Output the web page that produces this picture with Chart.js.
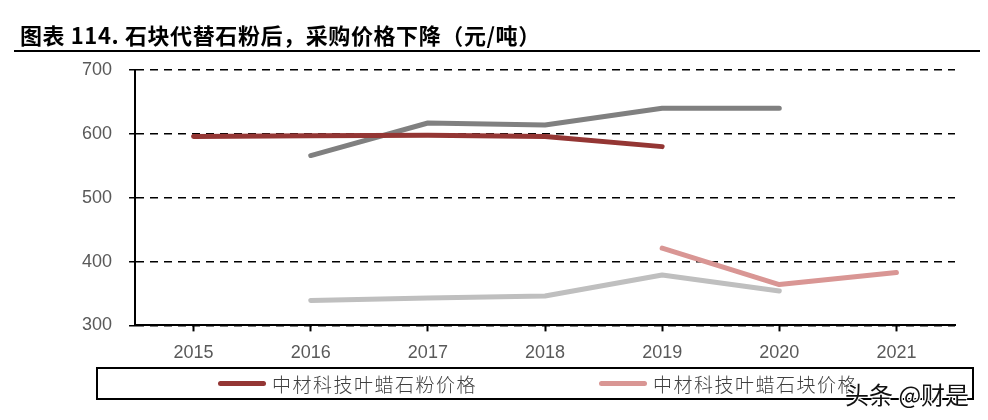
<!DOCTYPE html>
<html>
<head>
<meta charset="utf-8">
<script src="https://cdn.jsdelivr.net/npm/chart.js@4/dist/chart.umd.min.js"></script>
<style>
  html, body { margin: 0; padding: 0; background: #fff; }
  #wrap { position: relative; width: 988px; height: 420px; overflow: hidden; }
  #chart { position: absolute; left: 0; top: 0; }
  #title {
    position: absolute; left: 20px; top: 19px;
    font-family: "Noto Sans CJK SC", sans-serif; font-weight: bold;
    font-size: 22px; color: #000; white-space: nowrap; line-height: 30px;
    letter-spacing: 0.6px;
  }
  #rule { position: absolute; left: 14px; top: 50px; width: 966px; height: 2px; background: #000; }
  #legend {
    position: absolute; left: 96px; top: 367px; width: 874px; height: 29px;
    border: 2px solid #000; box-sizing: content-box;
  }
  .item { position: absolute; top: 0; height: 29px; display: flex; align-items: center; }
  .swatch { width: 48px; height: 5px; border-radius: 3px; margin-right: 6px; }
  .label {
    font-family: "Noto Sans CJK SC", sans-serif; font-size: 19px; color: #404040;
    letter-spacing: 1.5px; font-weight: 300;
  }
  #mark {
    position: absolute; left: 845px; top: 376px;
    font-family: "Noto Sans CJK SC", sans-serif; font-size: 24px; color: #111;
    text-shadow: 1px 1px 0 #fff, -1px -1px 0 #fff, 1px -1px 0 #fff, -1px 1px 0 #fff;
    white-space: nowrap;
  }
</style>
</head>
<body>
<div id="wrap">
  <canvas id="chart" width="988" height="420"></canvas>
  <div id="title">图表 114. 石块代替石粉后，采购价格下降（元/吨）</div>
  <div id="rule"></div>
  <div id="legend"></div>
  <div id="mark">头条 @财是</div>
</div>
<script>
const YEARS = ['2015', '2016', '2017', '2018', '2019', '2020', '2021'];

const POWDER_NAME = '中材科技叶蜡石粉价格';
const POWDER_PRICE = [596, 597, 598, 596, 580, null, null];

const BLOCK_NAME = '中材科技叶蜡石块价格';
const BLOCK_PRICE = [null, null, null, null, 421, 364, 383];

const OTHER_HIGH = [null, 566, 617, 614, 640, 640, null];
const OTHER_LOW = [null, 339, 343, 346, 379, 354, null];

const Y_TICKS = [300, 400, 500, 600, 700];

const POWDER_COLOR = '#943634';
const BLOCK_COLOR = '#d99694';
const HIGH_COLOR = '#808080';
const LOW_COLOR = '#bfbfbf';

const TICK_FONT = { family: '"Liberation Sans", Arial, sans-serif', size: 18 };

function lineSet(label, data, color) {
  return {
    label: label,
    data: data,
    borderColor: color,
    backgroundColor: color,
    borderWidth: 5,
    borderCapStyle: 'round',
    borderJoinStyle: 'round',
    pointRadius: 0,
    tension: 0,
    spanGaps: false,
  };
}

// legend only lists the two named series, like the original
const legend = document.getElementById('legend');
[[POWDER_NAME, POWDER_COLOR, 120], [BLOCK_NAME, BLOCK_COLOR, 501]].forEach(([name, color, left]) => {
  const item = document.createElement('div');
  item.className = 'item';
  item.style.left = left + 'px';
  item.innerHTML = '<div class="swatch" style="background:' + color + '"></div><span class="label">' + name + '</span>';
  legend.appendChild(item);
});

const ctx = document.getElementById('chart');
new Chart(ctx, {
  type: 'line',
  data: {
    labels: YEARS,
    datasets: [
      lineSet(POWDER_NAME, POWDER_PRICE, POWDER_COLOR),
      lineSet(BLOCK_NAME, BLOCK_PRICE, BLOCK_COLOR),
      lineSet('high', OTHER_HIGH, HIGH_COLOR),
      lineSet('low', OTHER_LOW, LOW_COLOR),
    ],
  },
  options: {
    responsive: false,
    animation: false,
    layout: { padding: { left: 65, right: 33, top: 70, bottom: 45 } },
    plugins: {
      legend: { display: false },
      tooltip: { enabled: false },
    },
    scales: {
      x: {
        offset: true,
        grid: {
          offset: false,
          drawOnChartArea: false,
          drawTicks: true,
          tickLength: 6,
          tickWidth: 2,
          tickColor: '#000',
        },
        border: { display: true, color: '#000', width: 2 },
        ticks: { color: '#595959', font: TICK_FONT, padding: 11 },
      },
      y: {
        min: 300,
        max: 700,
        afterBuildTicks: (axis) => { axis.ticks = Y_TICKS.map(v => ({ value: v })); },
        grid: {
          color: '#000',
          lineWidth: 1.5,
          drawTicks: true,
          tickLength: 6,
          tickColor: '#000',
          tickWidth: 1.5,
        },
        border: { display: true, color: '#000', width: 2, dash: [8, 6] },
        ticks: { color: '#595959', font: TICK_FONT, padding: 17 },
      },
    },
  },
});
</script>
</body>
</html>
